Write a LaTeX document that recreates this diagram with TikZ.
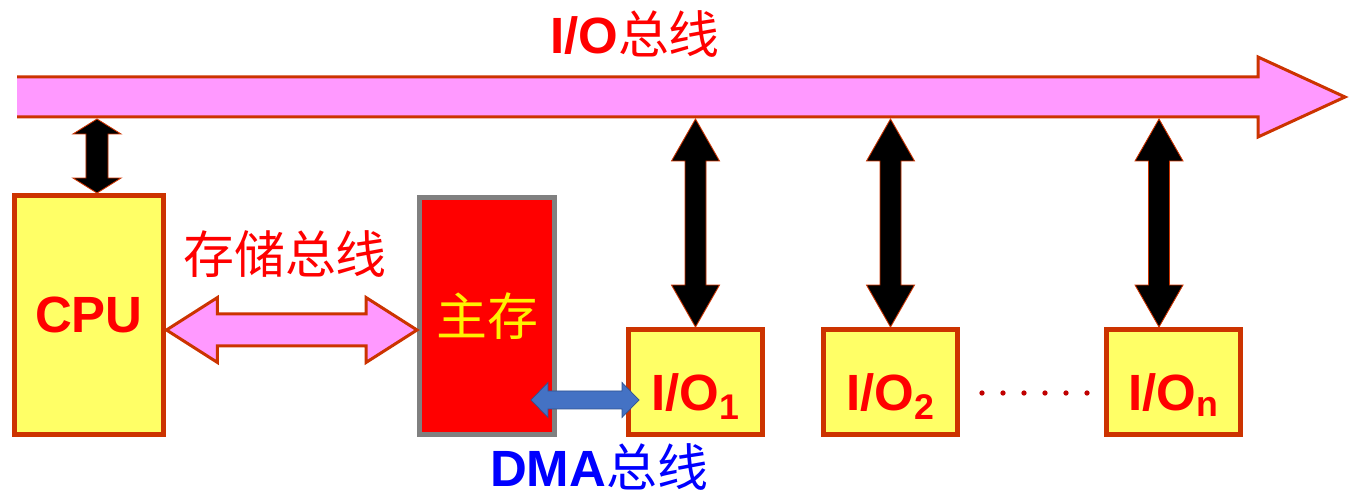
\documentclass[tikz,border=0pt]{standalone}
\usepackage{fontspec}
\setmainfont{Liberation Sans}
\newfontfamily\cjk{Noto Sans CJK SC}
\usetikzlibrary{calc}
\definecolor{edge-red}{HTML}{CC3300}
\definecolor{bus-pink}{HTML}{FF99FF}
\definecolor{box-yellow}{HTML}{FFFF66}
\definecolor{dma-blue}{HTML}{4472C4}
\definecolor{dma-edge}{HTML}{2F528F}
\definecolor{dot-red}{HTML}{C00000}
\newcommand{\bigfont}{\fontsize{29}{34}\selectfont}
\newcommand{\vbusarrow}[6]{%
  \draw[#1] (#2) -- ($(#2)+(#5,#4)$) -- ($(#2)+(#6,#4)$) -- ($(#3)+(#6,-#4)$) -- ($(#3)+(#5,-#4)$) -- (#3)
    -- ($(#3)+(-#5,-#4)$) -- ($(#3)+(-#6,-#4)$) -- ($(#2)+(-#6,#4)$) -- ($(#2)+(-#5,#4)$) -- cycle;}
\newcommand{\hbusarrow}[6]{%
  \draw[#1] (#2) -- ($(#2)+(#4,-#5)$) -- ($(#2)+(#4,-#6)$) -- ($(#3)+(-#4,-#6)$) -- ($(#3)+(-#4,-#5)$) -- (#3)
    -- ($(#3)+(-#4,#5)$) -- ($(#3)+(-#4,#6)$) -- ($(#2)+(#4,#6)$) -- ($(#2)+(#4,#5)$) -- cycle;}
\tikzset{
    yellow-box/.style = {draw=edge-red, fill=box-yellow, line width=0.1cm, rectangle, text=red, font=\bigfont\bfseries},
    mem-box/.style = {draw=gray, fill=red, line width=0.1cm, rectangle, text=yellow, font=\bigfont\cjk},
    io-box/.style = {yellow-box, minimum width=2.68cm, minimum height=2.1cm, text height=32pt, text depth=0pt},
    bus-label/.style = {font=\bigfont, anchor=base, inner sep=0pt},
    black-arrow/.style = {fill=black, draw=edge-red, line width=0.5pt},
    pink-arrow/.style = {fill=bus-pink, draw=edge-red, line width=0.06cm},
    dma-arrow/.style = {fill=dma-blue, draw=dma-edge, line width=0.4pt},
}
\begin{document}
\begin{tikzpicture}[x=0.02cm, y=-0.02cm]
\useasboundingbox (0,0) rectangle (1352,496);
\fill[bus-pink] (17,77) -- (1258,77) -- (1258,57) -- (1345,97) -- (1258,137) -- (1258,117) -- (17,117) -- cycle;
\draw[edge-red, line width=0.06cm] (17,77) -- (1258,77) -- (1258,57) -- (1345,97) -- (1258,137) -- (1258,117) -- (17,117);
\coordinate (bus-low) at (0,119);
\node[bus-label, text=red] (io-bus-label) at (635,54) {\textbf{I/O}{\cjk 总线}};

\node[yellow-box, minimum width=3cm, minimum height=4.78cm] (cpu) at (89,315) {CPU};
\node[mem-box, minimum width=2.7cm, minimum height=4.74cm] (mem) at (487,316) {主存};
\node[io-box] (io1) at (695.5,382) {I/O\textsubscript{1}};
\node[io-box] (io2) at (890.5,382) {I/O\textsubscript{2}};
\node[io-box] (ion) at (1173.5,382) {I/O\textsubscript{n}};
\foreach \i in {0,...,5}
  \fill[dot-red] (982+21*\i,393) circle[radius=1.5pt];

\coordinate (cpu-port) at ([xshift=0.16cm]cpu.north);
\coordinate (cpu-bus) at (cpu-port |- bus-low);
\vbusarrow{black-arrow}{cpu-bus}{cpu-port}{15}{24}{11}
\foreach \io/\dx in {io1/0, io2/0, ion/-0.29} {
  \coordinate (\io-port) at ([xshift=\dx cm]\io.north);
  \coordinate (\io-bus) at (\io-port |- bus-low);
  \vbusarrow{black-arrow}{\io-bus}{\io-port}{42}{24}{10.5}
}

\coordinate (cpu-mem) at ([yshift=-0.3cm]cpu.east);
\coordinate (mem-cpu) at (cpu-mem -| mem.west);
\hbusarrow{pink-arrow}{cpu-mem}{mem-cpu}{51}{32.5}{16}
\node[bus-label, text=red] (mem-bus-label) at (285,274) {\cjk 存储总线};

\coordinate (io-dma) at ([xshift=0.26cm,yshift=-0.36cm]io1.west);
\coordinate (mem-dma) at ($(io-dma -| mem.east)+(-26,0)$);
\hbusarrow{dma-arrow}{mem-dma}{io-dma}{17}{17.5}{9}
\node[bus-label, text=blue] (dma-label) at (599,486) {\textbf{DMA}{\cjk 总线}};
\end{tikzpicture}
\end{document}
